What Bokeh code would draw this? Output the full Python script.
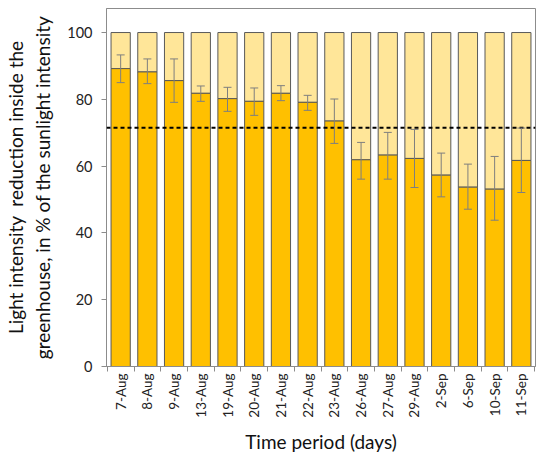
import math

from bokeh.embed import file_html
from bokeh.models import ColumnDataSource, FixedTicker, Range1d, Span, TeeHead, Whisker
from bokeh.plotting import figure
from bokeh.resources import INLINE

# data
dates = ["7-Aug", "8-Aug", "9-Aug", "13-Aug", "19-Aug", "20-Aug", "21-Aug", "22-Aug",
         "23-Aug", "26-Aug", "27-Aug", "29-Aug", "2-Sep", "6-Sep", "10-Sep", "11-Sep"]
reduction = [89.2, 88.2, 85.6, 81.8, 80.2, 79.4, 81.8, 79.1,
             73.5, 61.9, 63.3, 62.3, 57.3, 53.7, 53.1, 61.7]
err_upper = [93.3, 92.1, 92.1, 84.0, 83.6, 83.4, 84.1, 81.2,
             80.1, 67.1, 70.1, 71.0, 63.9, 60.6, 62.9, 71.4]
err_lower = [85.0, 84.7, 79.1, 79.4, 76.4, 75.2, 79.6, 76.7,
             66.8, 56.1, 56.1, 53.6, 50.8, 47.1, 43.8, 52.1]
total = 100
threshold = 71.5

FONT = "Lato"
idx = list(range(len(dates)))

src = ColumnDataSource(data=dict(
    x=idx,
    val=reduction,
    top=[total] * len(idx),
    upper=err_upper,
    lower=err_lower,
))

p = figure(width=538, height=455, output_backend="svg", toolbar_location=None,
           x_range=Range1d(-0.53, len(dates) - 0.47), y_range=Range1d(0, 107.2),
           min_border_left=98, min_border_right=3, min_border_top=8, min_border_bottom=60)

# light part (rest up to 100) and dark part (reduction)
p.vbar(x="x", bottom="val", top="top", width=0.72, source=src,
       fill_color="#FFE699", line_color="#595959", line_width=1)
p.vbar(x="x", bottom=0, top="val", width=0.72, source=src,
       fill_color="#FFC000", line_color="#595959", line_width=1)

err = Whisker(base="x", upper="upper", lower="lower", source=src, level="overlay",
              line_color="#7F7F7F", line_width=1,
              upper_head=TeeHead(size=8, line_color="#7F7F7F", line_width=1),
              lower_head=TeeHead(size=8, line_color="#7F7F7F", line_width=1))
p.add_layout(err)

p.add_layout(Span(location=threshold, dimension="width", line_color="black",
                  line_width=2, line_dash="4 3"))

p.xgrid.visible = False
p.ygrid.visible = False
p.outline_line_color = "#8C8C8C"

p.xaxis.ticker = FixedTicker(ticks=idx, minor_ticks=[i - 0.5 for i in range(len(dates) + 1)])
p.xaxis.major_label_overrides = {i: d for i, d in enumerate(dates)}
p.xaxis.major_label_orientation = math.pi / 2
p.xaxis.major_tick_out = 0
p.xaxis.major_tick_in = 0
p.xaxis.minor_tick_out = 5
p.xaxis.minor_tick_in = 0
p.xaxis.major_label_standoff = 2
p.xaxis.axis_label = "Time period (days)"
p.xaxis.axis_label_standoff = 9

p.yaxis.ticker = FixedTicker(ticks=[0, 20, 40, 60, 80, 100])
p.yaxis.minor_tick_out = 0
p.yaxis.minor_tick_in = 0
p.yaxis.major_tick_in = 0
p.yaxis.major_tick_out = 5
p.yaxis.major_label_standoff = 9
p.yaxis.axis_label = "Light intensity\u00a0 reduction inside the\ngreenhouse, in % of the sunlight intensity"
p.yaxis.axis_label_standoff = 10

for ax in (p.xaxis[0], p.yaxis[0]):
    ax.axis_line_color = "#8C8C8C"
    ax.major_tick_line_color = "#8C8C8C"
    ax.minor_tick_line_color = "#8C8C8C"
    ax.major_label_text_font = FONT
    ax.major_label_text_color = "#222222"
    ax.axis_label_text_font = FONT
    ax.axis_label_text_font_size = "19px"
    ax.axis_label_text_font_style = "normal"
    ax.axis_label_text_color = "#111111"

p.xaxis.major_label_text_font_size = "13.5px"
p.yaxis.major_label_text_font_size = "14.5px"

open("out.html", "w").write(file_html(p, INLINE))
